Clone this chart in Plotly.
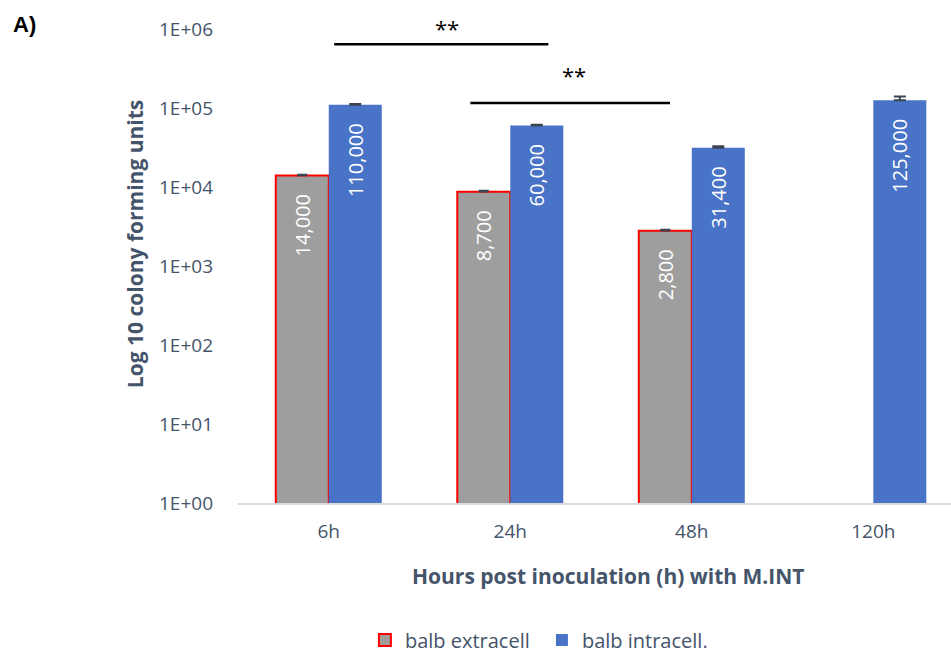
import plotly.graph_objects as go

# Colony counts per time point
hours = ["6h", "24h", "48h", "120h"]
extracell = [14000, 8700, 2800, None]
intracell = [110000, 60000, 31400, 125000]
extracell_err = [400, 300, 100, 0]
intracell_err = [2500, 1500, 1500, 15000]

ytick_vals = [1, 10, 100, 1000, 10000, 100000, 1000000]
ytick_text = ["1E+00", "1E+01", "1E+02", "1E+03", "1E+04", "1E+05", "1E+06"]

font_family = "Open Sans, Liberation Sans, sans-serif"
ink = "#44546a"
pad = "\u00a0\u00a0\u00a0"

fig = go.Figure()

fig.add_trace(go.Bar(
    name="balb extracell",
    x=hours,
    y=extracell,
    marker=dict(color="#9e9e9e", line=dict(color="#ff0000", width=2)),
    error_y=dict(type="data", array=extracell_err, symmetric=False, arrayminus=[0] * 4,
                 color="#3b4452", thickness=1.5, width=5),
    text=[f"{v:,}{pad}" if v else "" for v in extracell],
    textposition="inside",
    insidetextanchor="end",
    textangle=-90,
    insidetextfont=dict(color="white", size=20, family=font_family),
    constraintext="none",
))

fig.add_trace(go.Bar(
    name="balb intracell.",
    x=hours,
    y=intracell,
    marker=dict(color="#4873c6", line=dict(width=0)),
    error_y=dict(type="data", array=intracell_err, symmetric=False, arrayminus=[0] * 4,
                 color="#3b4452", thickness=2, width=6),
    text=[f"{v:,}{pad}" for v in intracell],
    textposition="inside",
    insidetextanchor="end",
    textangle=-90,
    insidetextfont=dict(color="white", size=20, family=font_family),
    constraintext="none",
))

# significance brackets
fig.add_shape(type="line", xref="x", yref="paper", x0=0.03, x1=1.21, y0=0.968, y1=0.968,
              line=dict(color="black", width=2.5))
fig.add_shape(type="line", xref="x", yref="paper", x0=0.78, x1=1.88, y0=0.844, y1=0.844,
              line=dict(color="black", width=2.5))

annotations = [
    dict(text="**", xref="x", yref="paper", x=0.65, y=1.003, showarrow=False,
         font=dict(size=22, color="black", family=font_family), yanchor="middle"),
    dict(text="**", xref="x", yref="paper", x=1.35, y=0.903, showarrow=False,
         font=dict(size=22, color="black", family=font_family), yanchor="middle"),
    dict(text="<b>A)</b>", xref="paper", yref="paper", x=-0.318, y=1.01, showarrow=False,
         xanchor="left", yanchor="middle",
         font=dict(size=22, color="black", family="Liberation Sans, Arial, sans-serif")),
    dict(text="<b>Log 10 colony forming units</b>", xref="paper", yref="paper",
         x=-0.1445, y=0.546, textangle=-90, showarrow=False,
         xanchor="center", yanchor="middle",
         font=dict(size=21, color=ink, family=font_family)),
    dict(text="<b>Hours post inoculation (h) with M.INT</b>", xref="paper", yref="paper",
         x=0.519, y=-0.154, showarrow=False, xanchor="center", yanchor="middle",
         font=dict(size=21, color=ink, family=font_family)),
]

fig.update_layout(
    width=951,
    height=655,
    margin=dict(l=238, r=0, t=29, b=152, autoexpand=False),
    paper_bgcolor="white",
    plot_bgcolor="white",
    barmode="group",
    bargap=0.416,
    bargroupgap=0,
    font=dict(family=font_family, color=ink, size=19),
    annotations=annotations,
    legend=dict(
        orientation="h",
        x=0.178, y=-0.289, xanchor="left", yanchor="middle",
        font=dict(size=20, color=ink, family=font_family),
        itemsizing="constant",
        itemwidth=30,
        entrywidth=132,
    ),
    xaxis=dict(
        range=[-0.5, 3.428],
        showline=True, linecolor="#d9d9d9", linewidth=1.5,
        showgrid=False, ticks="",
        tickfont=dict(size=19, color=ink),
        ticklabelstandoff=10,
        automargin=False,
    ),
    yaxis=dict(
        type="log",
        range=[0, 6],
        tickvals=ytick_vals,
        ticktext=ytick_text,
        showgrid=False, showline=False, zeroline=False, ticks="",
        tickfont=dict(size=19, color=ink),
        ticklabelstandoff=24,
        automargin=False,
    ),
)

fig.write_html("out.html")
